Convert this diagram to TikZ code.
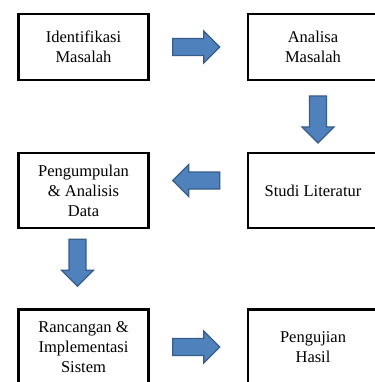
\documentclass[tikz,border=0pt]{standalone}
\usepackage{fontspec}
\setmainfont{Liberation Serif}
\usetikzlibrary{calc}
\definecolor{arrowblue}{RGB}{79,129,189}
\definecolor{arrowedge}{RGB}{56,93,138}
\tikzset{
	stepbox/.style={draw=black, line width=2.8pt, fill=white, rectangle, align=center,
		minimum width=130pt, font=\fontsize{16.5}{20}\selectfont},
	blockarrow/.style={fill=arrowblue, draw=arrowedge, line width=1.2pt, line join=miter}
}
\def\blockarrow#1#2{\draw[blockarrow, shift={#2}, rotate=#1] (-23.5,-8.5) -- (7.5,-8.5) -- (7.5,-16) -- (23.5,0) -- (7.5,16) -- (7.5,8.5) -- (-23.5,8.5) -- cycle;}

\begin{document}
\begin{tikzpicture}[x=1pt,y=-1pt]
			%%%%% START %%%%%
			
			\fill[white] (0, 0) rectangle (374, 382);
			\useasboundingbox (0, 0) rectangle (374, 382);
			
			\node[stepbox, minimum height=66pt] (idm) at (83.5, 47) {Identifikasi\\Masalah};
			\node[stepbox, minimum height=66pt] (anm) at (313, 47) {Analisa\\Masalah};
			
			\node[stepbox, minimum height=75pt] (stl) at (313, 190.5) {Studi Literatur};
			\node[stepbox, minimum height=75pt] (pad) at (83.5, 190.5) {Pengumpulan\\\& Analisis\\Data};
			
			\node[stepbox, minimum height=75pt] (ris) at (83.5, 347) {Rancangan \&\\Implementasi\\Sistem};
			\node[stepbox, minimum height=75pt] (phs) at (313, 347) {Pengujian\\Hasil};
			
			\blockarrow{0}{($(idm.east)!0.5!(anm.west)+(-2,0)$)}
			\blockarrow{-90}{($(anm.south)!0.5!(stl.north)+(5,3)$)}
			\blockarrow{180}{($(stl.west)!0.5!(pad.east)+(-2,-10)$)}
			\blockarrow{-90}{($(pad.south)!0.5!(ris.north)+(-6,-6)$)}
			\blockarrow{0}{($(ris.east)!0.5!(phs.west)+(-2,0)$)}
			
			%%%%% END %%%%%
		\end{tikzpicture}
\end{document}
